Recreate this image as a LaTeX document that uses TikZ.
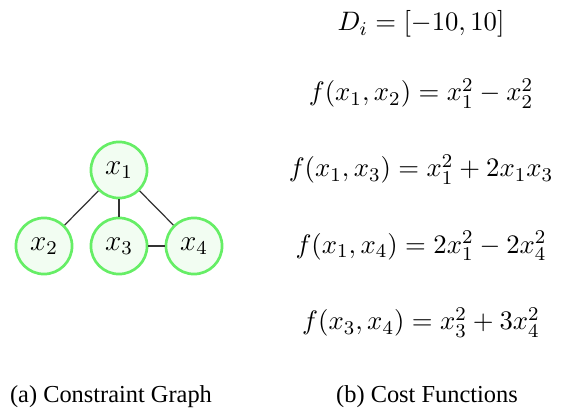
\documentclass[tikz,border=0pt]{standalone}
\usepackage{amsmath}
\usepackage{fontspec}
\setmainfont{Liberation Serif}
\usetikzlibrary{positioning}
\definecolor{cgreen}{HTML}{66EE66}
\definecolor{lightgreen}{HTML}{F2FDF2}
\definecolor{cedge}{HTML}{333333}

\begin{document}
\begin{tikzpicture}[x=0.41pt, y=-0.41pt,
  var/.style={circle, draw=cgreen, fill=lightgreen, line width=1.1pt,
    minimum size=23pt, inner sep=0pt, font=\large},
  link/.style={cedge, line width=0.5pt},
  cost/.style={anchor=base, font=\fontsize{11}{13}\selectfont}]
  \useasboundingbox (0,0) rectangle (562,411);

  % Constraint graph
  \node[var] (x1) at (119,170) {$x_1$};
  \node[var] (x2) at (44,246) {$x_2$};
  \node[var] (x3) at (119,246) {$x_3$};
  \node[var] (x4) at (194,246) {$x_4$};
  \foreach \v in {x2,x3,x4}{
    \draw[link] (x1) -- (\v);
  }
  \draw[link] (x3) -- (x4);

  % Cost functions
  \node[cost] (dom) at (421,31) {$D_i = [-10,10]$};
  \node[cost] (f12) at (421,101) {$f(x_1,x_2) = x_1^2 - x_2^2$};
  \node[cost] (f13) at (421,177) {$f(x_1,x_3) = x_1^2 + 2x_1x_3$};
  \node[cost] (f14) at (421,253) {$f(x_1,x_4) = 2x_1^2 - 2x_4^2$};
  \node[cost] (f34) at (421,330) {$f(x_3,x_4) = x_3^2 + 3x_4^2$};

  % Captions
  \node[anchor=base] (capa) at (111,402) {(a) Constraint Graph};
  \node[anchor=base] (capb) at (427,402) {(b) Cost Functions};
\end{tikzpicture}
\end{document}
